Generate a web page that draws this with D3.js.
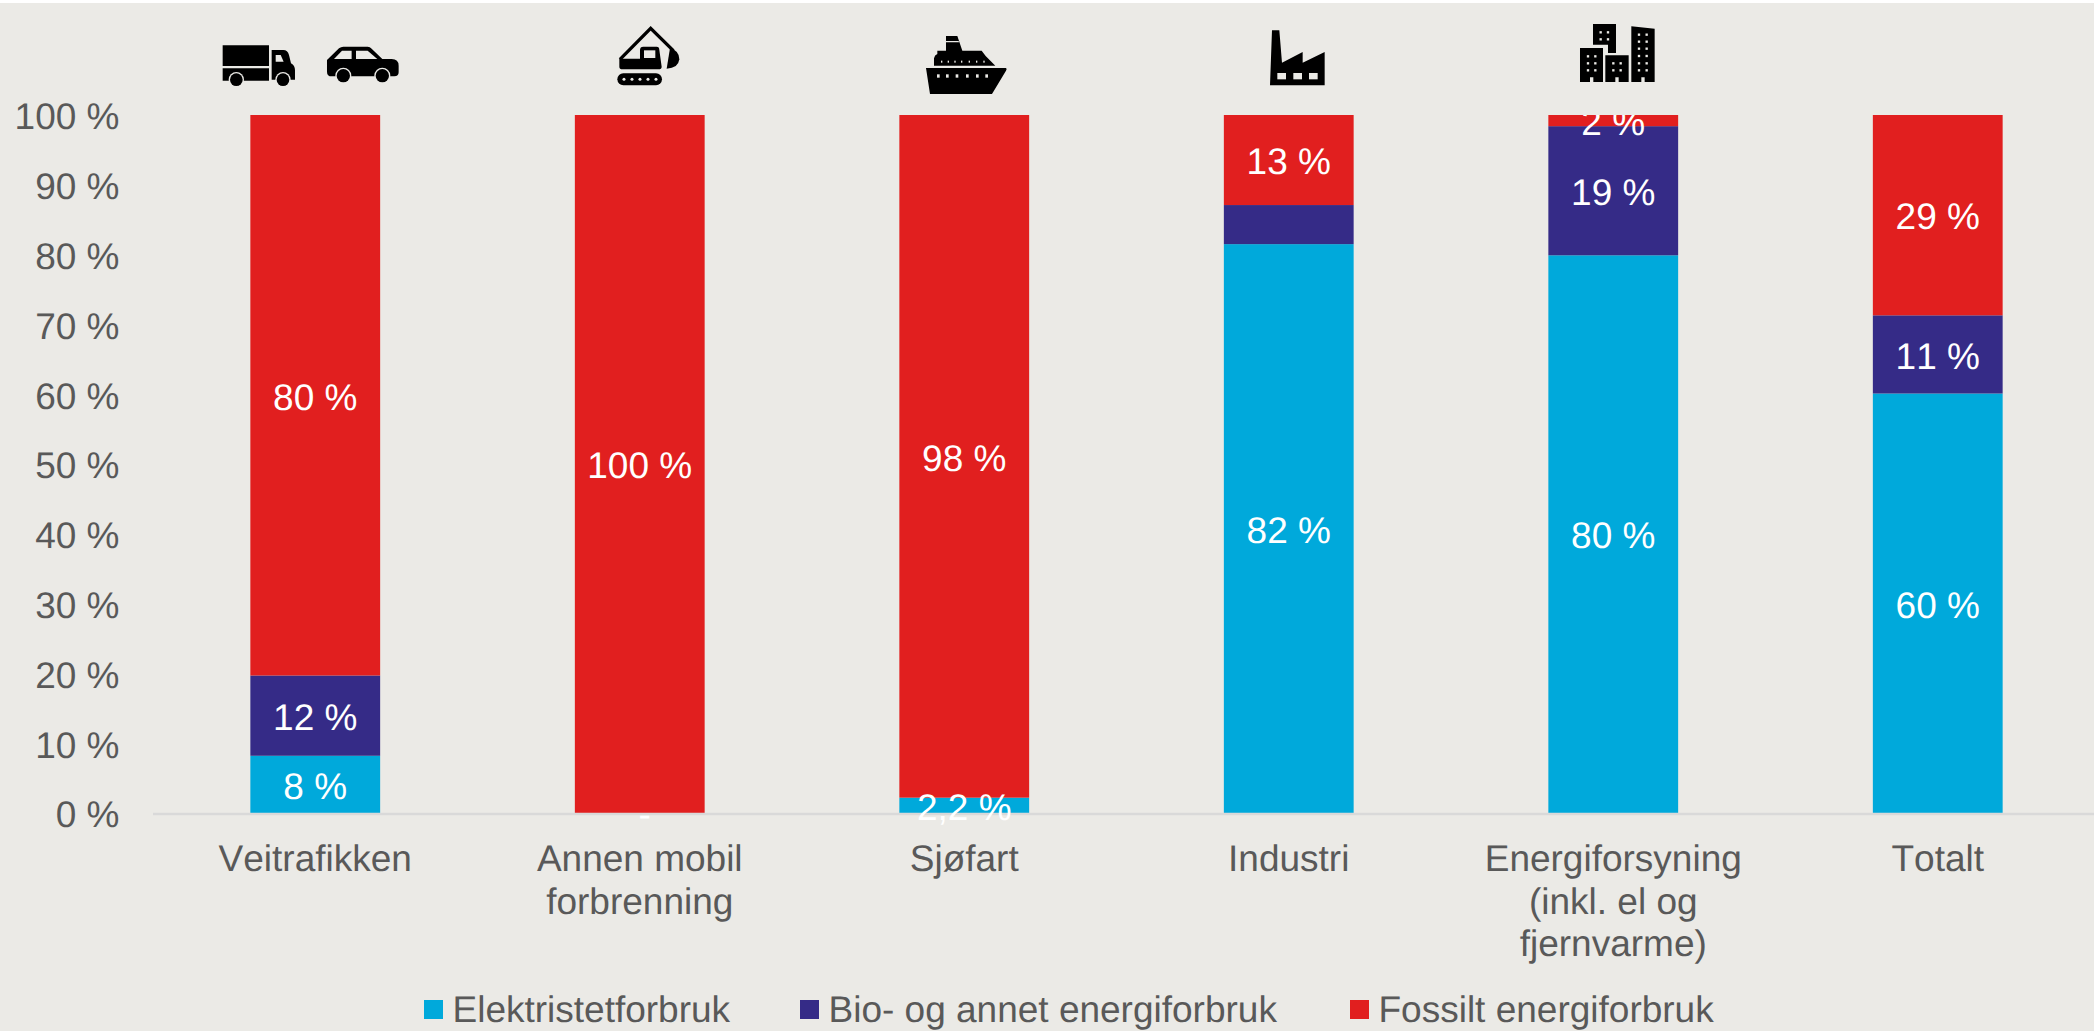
<!DOCTYPE html>
<html>
<head>
<meta charset="utf-8">
<script src="https://cdn.jsdelivr.net/npm/d3@7"></script>
<style>
  html, body { margin: 0; padding: 0; background: #ebeae6; overflow: hidden; }
  text { font-family: "Liberation Sans", Arial, sans-serif; font-size: 37px; text-rendering: geometricPrecision; font-kerning: none; }
</style>
</head>
<body>
<div id="chart"></div>
<script>
(function() {
  var width = 2094,
      height = 1031;

  var categories = ["Veitrafikken", "Annen mobil forbrenning", "Sjøfart", "Industri", "Energiforsyning (inkl. el og fjernvarme)", "Totalt"];
  var categoryLines = [["Veitrafikken"], ["Annen mobil", "forbrenning"], ["Sjøfart"], ["Industri"], ["Energiforsyning", "(inkl. el og", "fjernvarme)"], ["Totalt"]];

  var seriesNames = ["Elektristetforbruk", "Bio- og annet energiforbruk", "Fossilt energiforbruk"];
  var seriesColors = ["#00a9db", "#352b87", "#e11f1f"];

  var elektrisitet = [8.2, 0, 2.2, 81.5, 79.9, 60.1];
  var bio = [11.5, 0, 0, 5.6, 18.5, 11.2];
  var fossilt = [80.3, 100, 97.8, 12.9, 1.6, 28.7];

  var elektrisitetLabels = ["8 %", "-", "2,2 %", "82 %", "80 %", "60 %"];
  var bioLabels = ["12 %", "", "", "", "19 %", "11 %"];
  var fossiltLabels = ["80 %", "100 %", "98 %", "13 %", "2 %", "29 %"];

  var yTicks = [0, 10, 20, 30, 40, 50, 60, 70, 80, 90, 100];

  var legendX = [424, 800, 1350];

  var svg = d3.select("#chart")
    .append("svg")
    .attr("width", width)
    .attr("height", height)
    .style("display", "block");

  // strip of white along the top edge
  svg.append("rect").attr("width", width).attr("height", 3).attr("fill", "#ffffff");

  var x = d3.scaleBand()
    .domain(categories)
    .range([153, 2100])
    .paddingInner(0.6)
    .paddingOuter(0.3);

  var y = d3.scaleLinear()
    .domain([0, 100])
    .range([813, 115]);

  var rows = categories.map(function(c, i) {
    return { cat: c, 0: elektrisitet[i], 1: bio[i], 2: fossilt[i], i: i };
  });

  var stacked = d3.stack().keys([0, 1, 2])(rows);
  var labels = [elektrisitetLabels, bioLabels, fossiltLabels];

  svg.append("clipPath").attr("id", "plot-top")
    .append("rect").attr("x", 0).attr("y", 115).attr("width", width).attr("height", 800);

  // y axis
  var yAxis = svg.append("g")
    .attr("transform", "translate(153,0)")
    .call(d3.axisLeft(y).tickValues(yTicks).tickSize(0).tickPadding(33.5)
      .tickFormat(function(d) { return d + " %"; }));
  yAxis.select(".domain").remove();
  yAxis.selectAll("text")
    .attr("fill", "#595959")
    .attr("dy", "0.36em")
    .attr("y", 0.5);
  yAxis.attr("font-family", null).attr("font-size", null);

  // bars
  var layers = svg.selectAll(".layer")
    .data(stacked)
    .enter().append("g")
    .attr("class", "layer")
    .attr("fill", function(d, i) { return seriesColors[i]; });

  layers.selectAll("rect")
    .data(function(d) { return d; })
    .enter().append("rect")
    .attr("x", function(d) { return x(d.data.cat); })
    .attr("width", x.bandwidth())
    .attr("y", function(d) { return y(d[1]); })
    .attr("height", function(d) { return y(d[0]) - y(d[1]); });

  // baseline
  svg.append("line")
    .attr("x1", 153).attr("x2", width)
    .attr("y1", y(0) + 1).attr("y2", y(0) + 1)
    .attr("stroke", "#d9d9d9")
    .attr("stroke-width", 2.5);

  // x axis labels
  var xAxis = svg.append("g")
    .attr("transform", "translate(0,813)")
    .call(d3.axisBottom(x).tickSize(0).tickFormat(""));
  xAxis.select(".domain").remove();
  xAxis.selectAll(".tick text").remove();
  xAxis.selectAll(".tick").each(function(d, i) {
    var t = d3.select(this).append("text")
      .attr("text-anchor", "middle")
      .attr("fill", "#595959");
    categoryLines[i].forEach(function(line, j) {
      t.append("tspan").attr("x", 0).attr("y", 58 + j * 42.5).text(line);
    });
  });
  xAxis.attr("font-family", null).attr("font-size", null);

  // data labels, the top one gets cut by the plot edge
  var labelLayer = svg.append("g").attr("clip-path", "url(#plot-top)");
  stacked.forEach(function(s, k) {
    labelLayer.selectAll(".lbl-" + k)
      .data(s)
      .enter().append("text")
      .attr("class", "lbl-" + k)
      .attr("text-anchor", "middle")
      .attr("fill", "#ffffff")
      .attr("dy", "0.36em")
      .attr("dx", function(d, i) { return labels[k][i] === "-" ? 5 : 0; })
      .attr("x", function(d) { return x(d.data.cat) + x.bandwidth() / 2; })
      .attr("y", function(d) { return (y(d[0]) + y(d[1])) / 2 + 1; })
      .text(function(d, i) { return labels[k][i]; });
  });

  // legend
  var legend = svg.selectAll(".legend")
    .data(seriesNames)
    .enter().append("g")
    .attr("class", "legend")
    .attr("transform", function(d, i) { return "translate(" + legendX[i] + ",1000)"; });
  legend.append("rect")
    .attr("width", 19).attr("height", 19)
    .attr("fill", function(d, i) { return seriesColors[i]; });
  legend.append("text")
    .attr("x", 28.5).attr("y", 22)
    .attr("fill", "#595959")
    .text(function(d) { return d; });

  // icons, traced at 3x from the picture
  var bg = "#ebeae6";
  function icon(ox, oy) {
    return svg.append("g").attr("transform", "translate(" + ox + "," + oy + ") scale(0.3333)").attr("fill", "#000000");
  }
  function addPath(g, d, fill) { return g.append("path").attr("d", d).attr("fill", fill || "#000000"); }
  function ring(g, cx, cy, r) {
    g.append("circle").attr("cx", cx).attr("cy", cy).attr("r", r + 4).attr("fill", bg);
    g.append("circle").attr("cx", cx).attr("cy", cy).attr("r", r);
  }

  // truck and car
  var road = icon(215, 35);
  addPath(road, "M23 31H162V93H23Z");
  addPath(road, "M23 100H162V137H23Z");
  addPath(road, "M170 45H205Q218 45 222 60L228 85Q240 92 240 105V134H170Z");
  addPath(road, "M182 60H197L206 80H182Z", bg);
  ring(road, 64, 134, 19);
  ring(road, 204, 134, 19);
  addPath(road, "M336 75L372 40Q378 35 385 35H458Q465 35 470 41L502 72H530Q551 72 551 92V112Q551 124 538 124H350Q336 124 336 110Z");
  addPath(road, "M357 72L381 47H410V72Z", bg);
  addPath(road, "M423 47H458L487 72H423Z", bg);
  ring(road, 385, 122, 20);
  ring(road, 502, 122, 20);

  // excavator
  var dig = icon(610, 20);
  dig.append("path").attr("d", "M30 118L122 25L190 92").attr("fill", "none").attr("stroke", "#000000").attr("stroke-width", 10);
  addPath(dig, "M28 116H90V90Q90 80 100 80H140Q148 80 148 90L155 140Q155 148 145 148H38Q28 148 28 140Z");
  addPath(dig, "M102 91H136V114H102Z", bg);
  addPath(dig, "M180 85Q208 92 208 118Q205 145 170 146Z");
  dig.append("rect").attr("x", 22).attr("y", 160).attr("width", 134).attr("height", 36).attr("rx", 18);
  [42, 66, 90, 114, 138].forEach(function(cx) {
    dig.append("circle").attr("cx", cx).attr("cy", 178).attr("r", 4.5).attr("fill", bg);
  });

  // ship
  var ship = icon(920, 30);
  addPath(ship, "M18 114H258Q262 116 258 122L216 192H30Z");
  addPath(ship, "M42 107V85Q44 75 52 72V62H78V18H112L127 62H185L197 78L226 107Z");
  addPath(ship, "M78 33H116L117 37H78Z", bg);
  [55, 82, 111, 142, 172, 200].forEach(function(px) {
    ship.append("rect").attr("x", px - 4).attr("y", 133).attr("width", 8).attr("height", 10).attr("fill", bg);
  });
  [65, 85, 105, 125, 148, 170, 192].forEach(function(px) {
    ship.append("rect").attr("x", px - 2).attr("y", 92).attr("width", 4).attr("height", 6).attr("fill", bg);
  });

  // factory
  var fab = icon(1260, 22);
  addPath(fab, "M30 190L36 25H58L66 122L128 90V122L194 90V190Z");
  [52, 100, 147].forEach(function(px) {
    fab.append("rect").attr("x", px).attr("y", 153).attr("width", 26).attr("height", 19).attr("fill", bg);
  });

  // city
  var city = icon(1572, 18);
  addPath(city, "M63 18H132V105H108V80H63Z");
  addPath(city, "M24 90H93V192H64V178H54V192H24Z");
  addPath(city, "M100 112H170V192H140V178H130V192H100Z");
  addPath(city, "M178 25L248 32V192H218V178H208V192H178Z");
  function dots(xs, ys) {
    xs.forEach(function(px) {
      ys.forEach(function(py) {
        city.append("rect").attr("x", px - 3.5).attr("y", py - 3.5).attr("width", 7).attr("height", 7).attr("fill", bg);
      });
    });
  }
  dots([86, 108], [43, 64]);
  dots([48, 70], [115, 136, 157]);
  dots([124, 146], [136, 157]);
  dots([201, 224], [50, 71, 92, 114, 136, 157]);
})()
</script>
</body>
</html>
